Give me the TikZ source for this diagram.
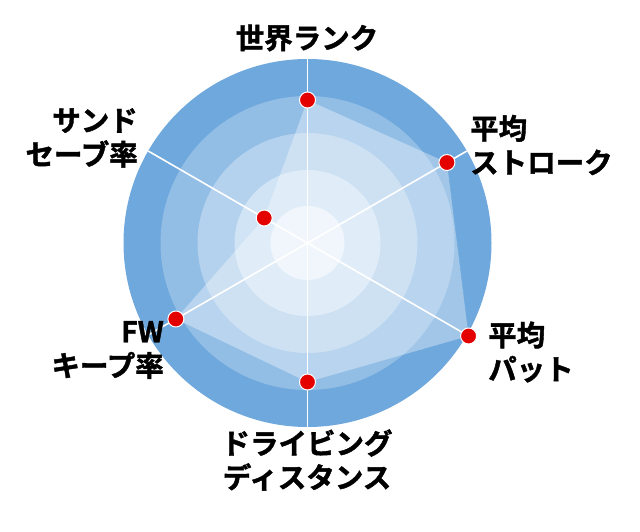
\documentclass[tikz,border=0pt]{standalone}
\usepackage{fontspec}
\usetikzlibrary{calc}
\newfontfamily\jp{Noto Sans CJK JP Bold}[FakeBold=1.5]
\begin{document}
\begin{tikzpicture}[x=1pt,y=-1pt,
  lbl/.style={font=\jp\fontsize{28.5}{34}\selectfont,inner sep=0pt},
  dot/.style={circle,fill=red!90!black,draw=white,line width=1pt,minimum size=16pt,inner sep=0pt},
  axis/.style={white,line width=1.6pt}]
\useasboundingbox (0,0) rectangle (640,531);
\coordinate (c) at (307.5,243);
\fill[fill={rgb,255:red,111;green,168;blue,220}] (c) circle (184);
\fill[fill={rgb,255:red,146;green,190;blue,230}] (c) circle (147);
\fill[fill={rgb,255:red,180;green,210;blue,238}] (c) circle (110);
\fill[fill={rgb,255:red,208;green,228;blue,245}] (c) circle (73);
\fill[fill={rgb,255:red,232;green,242;blue,250}] (c) circle (37);
\foreach \a [count=\i] in {-90,-30,30,90,150,210}
  \coordinate (e\i) at ($(c)+(\a:184)$);
\coordinate (q1) at ($(c)+(-90:143)$);
\coordinate (q2) at ($(c)+(-30:161)$);
\coordinate (q3) at ($(c)+(30:186)$);
\coordinate (q4) at ($(c)+(90:139)$);
\coordinate (q5) at ($(c)+(150:152)$);
\coordinate (q6) at ($(c)+(210:50)$);
\fill[white,opacity=0.35] (q1)--(q2)--(q3)--(q4)--(q5)--(q6)--cycle;
\draw[axis] (e1)--(e4);
\draw[axis] (e2)--(e5);
\draw[axis] (e3)--(e6);
\foreach \i in {1,...,6} \node[dot] (p\i) at (q\i) {};
\node[lbl,anchor=center] (t1) at (307,38) {世界ランク};
\node[lbl,anchor=west,align=left] (t2) at (470,145) {平均\\ストローク};
\node[lbl,anchor=west,align=left] (t3) at (488,352) {平均\\パット};
\node[lbl,anchor=center,align=center] (t4) at (307,460) {ドライビング\\ディスタンス};
\node[lbl,anchor=east,align=right] (t5) at (164,350) {FW\\キープ率};
\node[lbl,anchor=east,align=right] (t6) at (138,138) {サンド\\セーブ率};
\end{tikzpicture}
\end{document}
